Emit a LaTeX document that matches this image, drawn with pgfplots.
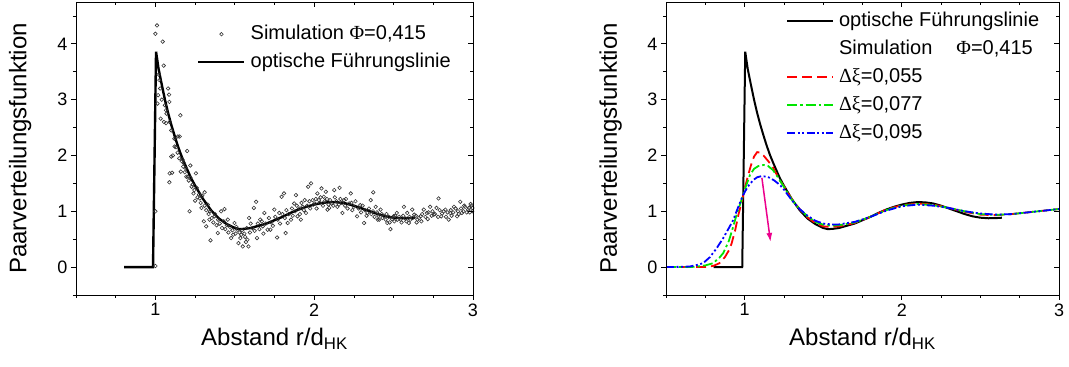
\documentclass[border=0pt]{standalone}
\usepackage{fontspec}
\setmainfont{Liberation Sans}
\newfontfamily\grk{Liberation Serif}
\usepackage{pgfplots}
\usepackage{pgfplotstable}
\pgfplotsset{compat=1.18}
\usetikzlibrary{arrows.meta}

\pgfplotstableread{
x y
0.803 0
0.985 0
1.004 3.86
1.02 3.55
1.04 3.27
1.06 3.00
1.08 2.76
1.10 2.55
1.12 2.36
1.14 2.18
1.16 2.02
1.18 1.88
1.20 1.75
1.225 1.59
1.25 1.46
1.275 1.34
1.30 1.22
1.35 1.02
1.40 0.87
1.45 0.77
1.50 0.70
1.53 0.68
1.56 0.685
1.60 0.70
1.65 0.74
1.70 0.78
1.75 0.84
1.80 0.90
1.85 0.97
1.90 1.03
1.95 1.08
2.00 1.12
2.05 1.15
2.10 1.165
2.15 1.16
2.20 1.14
2.25 1.10
2.30 1.05
2.35 1.00
2.40 0.95
2.45 0.91
2.50 0.885
2.55 0.875
2.60 0.878
2.637 0.885
}\guide

\pgfplotstableread{
x y
0.50 0
0.70 0
0.75 0.003
0.80 0.02
0.84 0.07
0.875 0.18
0.90 0.30
0.917 0.42
0.94 0.66
0.96 0.93
0.98 1.15
1.00 1.40
1.02 1.62
1.04 1.82
1.06 1.98
1.08 2.06
1.10 2.05
1.12 2.00
1.15 1.90
1.18 1.79
1.20 1.68
1.225 1.55
1.25 1.45
1.30 1.22
1.35 1.04
1.40 0.89
1.45 0.79
1.50 0.73
1.55 0.72
1.60 0.73
1.70 0.79
1.80 0.90
1.90 1.03
2.00 1.11
2.10 1.14
2.20 1.12
2.30 1.06
2.40 0.99
2.50 0.94
2.60 0.93
2.70 0.95
2.80 0.98
2.90 1.01
3.00 1.04
}\redc

\pgfplotstableread{
x y
0.50 0
0.65 0
0.70 0.01
0.75 0.03
0.80 0.07
0.84 0.17
0.864 0.25
0.90 0.47
0.927 0.72
0.95 0.95
0.98 1.20
1.00 1.38
1.034 1.65
1.06 1.76
1.087 1.81
1.12 1.83
1.15 1.81
1.18 1.74
1.20 1.66
1.225 1.55
1.25 1.44
1.30 1.21
1.35 1.04
1.40 0.91
1.45 0.81
1.50 0.76
1.55 0.745
1.60 0.75
1.70 0.80
1.80 0.90
1.90 1.02
2.00 1.10
2.10 1.13
2.20 1.11
2.30 1.06
2.40 1.00
2.50 0.95
2.60 0.935
2.70 0.95
2.80 0.98
2.90 1.01
3.00 1.04
}\greenc

\pgfplotstableread{
x y
0.50 0
0.60 0.005
0.65 0.01
0.70 0.04
0.736 0.07
0.78 0.18
0.82 0.33
0.86 0.50
0.90 0.70
0.927 0.84
0.96 1.08
0.99 1.29
1.02 1.44
1.055 1.56
1.08 1.61
1.108 1.63
1.14 1.62
1.16 1.60
1.19 1.55
1.225 1.47
1.25 1.39
1.30 1.20
1.35 1.04
1.40 0.92
1.45 0.83
1.50 0.78
1.55 0.765
1.60 0.765
1.70 0.81
1.80 0.90
1.90 1.01
2.00 1.09
2.10 1.12
2.20 1.10
2.30 1.06
2.40 1.00
2.50 0.96
2.60 0.94
2.70 0.95
2.80 0.98
2.90 1.01
3.00 1.04
}\bluec

\pgfplotstableread{
x y
1.0 0.02
1.0 1.0
1.0 4.18
1.01 4.33
1.046 4.04
1.052 3.61
1.025 3.35
1.017 3.08
1.013 2.93
1.033 2.66
1.054 2.60
1.067 2.58
1.08 3.20
1.086 3.09
1.088 2.96
1.067 2.81
1.157 2.72
1.142 2.34
1.153 2.34
1.121 2.16
1.10 1.98
1.11 2.00
1.09 1.68
1.105 1.69
1.088 1.52
1.17 1.93
1.20 2.08
1.18 1.86
1.16 1.71
1.19 1.77
1.22 1.82
1.205 1.62
1.255 1.68
1.228 1.44
1.24 1.32
1.25 1.19
1.28 1.23
1.215 1.00
1.31 1.34
1.29 1.06
1.305 0.82
1.32 0.73
1.34 0.85
1.347 0.48
1.372 0.91
1.393 0.61
1.414 1.00
1.435 1.04
1.456 0.85
1.477 0.52
1.498 0.79
1.515 0.67
1.523 0.43
1.54 0.58
1.55 0.37
1.565 0.54
1.58 0.49
1.586 0.37
1.59 0.88
1.62 1.06
1.634 1.17
1.64 0.52
1.66 0.85
1.676 0.73
1.686 0.97
1.707 0.67
1.724 0.67
1.749 1.03
1.766 0.53
1.78 0.97
1.795 1.26
1.81 1.32
1.82 0.61
1.833 0.79
1.854 0.85
1.874 1.14
1.885 1.29
1.895 0.91
1.916 0.85
1.927 1.08
1.948 0.97
1.962 1.44
1.98 1.50
1.99 1.20
2.004 1.14
2.02 1.32
2.03 1.20
2.046 1.41
2.06 1.26
2.073 1.35
2.084 1.03
2.094 1.06
2.11 1.14
2.126 1.38
2.146 1.08
2.16 1.42
2.178 0.97
2.188 1.20
2.22 1.14
2.23 1.32
2.25 1.08
2.27 0.91
2.29 1.11
2.314 0.79
2.335 0.97
2.356 1.20
2.372 1.34
2.387 1.08
2.40 0.85
2.418 1.03
2.44 0.91
2.46 0.79
2.48 0.68
2.50 0.91
2.52 0.97
2.544 0.85
2.565 1.08
2.586 0.97
2.596 0.79
2.617 1.03
2.63 0.94
2.65 0.85
2.67 0.91
2.69 1.03
2.71 0.97
2.73 1.08
2.753 0.94
2.77 1.06
2.783 1.23
2.80 0.91
2.826 1.03
2.847 0.85
2.857 0.97
2.88 1.08
2.90 0.91
2.92 1.17
2.93 0.97
2.95 1.08
2.97 1.03
2.985 1.13
2.996 1.06
1.02 3.45
1.03 3.20
1.04 3.00
1.06 2.90
1.07 2.75
1.09 2.60
1.10 2.45
1.12 2.30
1.13 2.15
1.14 2.05
1.15 1.95
1.165 1.90
1.175 1.80
1.185 1.70
1.195 1.62
1.21 1.55
1.22 1.60
1.235 1.48
1.245 1.38
1.26 1.42
1.265 1.25
1.275 1.30
1.285 1.15
1.295 1.28
1.31 1.10
1.32 1.02
1.33 1.12
1.335 0.95
1.345 1.00
1.355 0.88
1.365 0.80
1.375 0.95
1.385 0.75
1.395 0.85
1.405 0.78
1.42 0.70
1.43 0.82
1.44 0.68
1.45 0.75
1.46 0.62
1.47 0.72
1.485 0.66
1.49 0.58
1.505 0.60
1.51 0.72
1.53 0.62
1.535 0.52
1.545 0.66
1.56 0.60
1.57 0.45
1.575 0.70
1.595 0.62
1.60 0.78
1.61 0.70
1.625 0.65
1.645 0.78
1.655 0.68
1.67 0.82
1.68 0.60
1.695 0.78
1.715 0.88
1.73 0.80
1.74 0.74
1.755 0.90
1.77 0.85
1.785 0.78
1.80 0.95
1.815 0.88
1.825 1.02
1.84 0.95
1.86 1.05
1.865 0.92
1.88 1.00
1.89 1.10
1.905 1.05
1.91 0.95
1.92 1.15
1.935 1.02
1.94 1.20
1.955 1.10
1.97 1.18
1.975 1.05
1.995 1.12
2.01 1.22
2.015 1.05
2.035 1.15
2.04 1.25
2.055 1.10
2.065 1.18
2.08 1.22
2.09 1.12
2.10 1.20
2.12 1.10
2.13 1.25
2.14 1.18
2.155 1.12
2.165 1.22
2.175 1.15
2.195 1.10
2.20 1.22
2.21 1.05
2.235 1.15
2.24 1.02
2.26 1.18
2.28 1.05
2.295 0.98
2.305 1.10
2.32 1.02
2.33 0.92
2.345 1.05
2.36 0.95
2.37 1.00
2.38 0.90
2.395 0.98
2.405 0.92
2.41 0.85
2.425 0.95
2.43 0.88
2.45 0.85
2.455 0.95
2.47 0.90
2.475 0.80
2.49 0.86
2.505 0.82
2.51 0.92
2.525 0.85
2.535 0.90
2.55 0.80
2.56 0.92
2.575 0.87
2.58 0.82
2.60 0.90
2.605 0.85
2.62 0.88
2.64 0.92
2.645 0.80
2.66 0.88
2.675 0.82
2.68 0.95
2.70 0.90
2.715 0.86
2.72 0.98
2.74 0.92
2.745 1.00
2.76 0.95
2.78 0.90
2.79 1.02
2.805 0.96
2.815 1.00
2.83 0.90
2.84 0.98
2.86 1.02
2.865 0.92
2.875 0.98
2.89 1.05
2.905 1.00
2.91 0.95
2.925 1.05
2.94 1.00
2.945 1.10
2.96 0.98
2.975 1.06
2.98 0.98
2.99 1.10
2.995 1.00
}\sim

\pgfplotsset{
  base/.style={
    scale only axis, height=293pt,
    xmin=0.5, xmax=3, ymin=-0.5, ymax=4.75,
    xtick={1,2,3}, ytick={0,1,2,3,4},
    minor xtick={0.5,0.75,1.25,1.5,1.75,2.25,2.5,2.75},
    minor ytick={-0.5,0.5,1.5,2.5,3.5,4.5},
    major tick length=5pt, minor tick length=3pt,
    axis line style={line width=0.8pt},
    every tick/.style={black, line width=0.8pt},
  },
  main/.style={
    base,
    tick align=outside, xtick pos=bottom, ytick pos=left,
    tick label style={font=\fontsize{18}{21}\selectfont},
    /pgf/number format/assume math mode=true,
    label style={font=\fontsize{24}{28}\selectfont},
    xlabel={Abstand r/d\textsubscript{HK}},
    ylabel={Paarverteilungsfunktion},
    xlabel style={at={(axis description cs:0.5,0)}, anchor=north, yshift=-33pt, inner sep=0pt},
    ylabel style={at={(axis description cs:-0.112,0.5)}, anchor=south, inner sep=0pt},
    legend style={draw=none, fill=none, font=\fontsize{20}{24}\selectfont,
      inner sep=0pt, row sep=5pt, column sep=4pt,
      nodes={inner sep=1pt, text height=16pt, text depth=5pt, anchor=west}},
    legend cell align=left,
    legend image code/.code={\draw[mark repeat=2,mark phase=2,##1] plot coordinates {(0pt,0pt) (23pt,0pt) (46pt,0pt)};},
  },
  mirror/.style={
    base, tick align=inside, xtick pos=top, ytick pos=right,
    xticklabels={}, yticklabels={},
  },
}

\begin{document}
\begin{tikzpicture}
% left
\begin{axis}[main, width=397pt, at={(76pt,72pt)}, anchor=south west,
  legend style={at={(axis description cs:0.305,0.93)}, anchor=north west}]
  \addplot[only marks, mark=o, mark size=1.8pt, mark options={line width=0.6pt, draw=black!80}] table {\sim};
  \addlegendentry{Simulation {\grk Φ}=0,415}
  \addplot[black, line width=2.4pt] table {\guide};
  \addlegendentry{optische Führungslinie}
\end{axis}
\begin{axis}[mirror, width=397pt, at={(76pt,72pt)}, anchor=south west]
\end{axis}
% right
\begin{axis}[main, width=393pt, at={(666pt,72pt)}, anchor=south west,
  legend style={at={(axis description cs:0.305,0.975)}, anchor=north west}]
  \addplot[black, line width=2pt] table {\guide};
  \addlegendentry{optische Führungslinie}
  \addlegendimage{empty legend}
  \addlegendentry{Simulation\hspace{24pt}{\grk Φ}=0,415}
  \addplot[red, line width=1.8pt, dash pattern=on 10pt off 5pt] table {\redc};
  \addlegendentry{{\grk Δξ}=0,055}
  \addplot[green!90!black, line width=1.8pt, dash pattern=on 10pt off 3pt on 2.5pt off 3pt] table {\greenc};
  \addlegendentry{{\grk Δξ}=0,077}
  \addplot[blue, line width=1.8pt, dash pattern=on 8pt off 2.5pt on 2pt off 2.5pt on 2pt off 2.5pt] table {\bluec};
  \addlegendentry{{\grk Δξ}=0,095}
  \draw[magenta, line width=1.5pt, -{Latex[length=9pt,width=6pt]}] (axis cs:1.11,1.6) -- (axis cs:1.165,0.45);
\end{axis}
\begin{axis}[mirror, width=393pt, at={(666pt,72pt)}, anchor=south west]
\end{axis}
\pgfresetboundingbox
\path (0,0) rectangle (1069pt,367pt);
\end{tikzpicture}
\end{document}
